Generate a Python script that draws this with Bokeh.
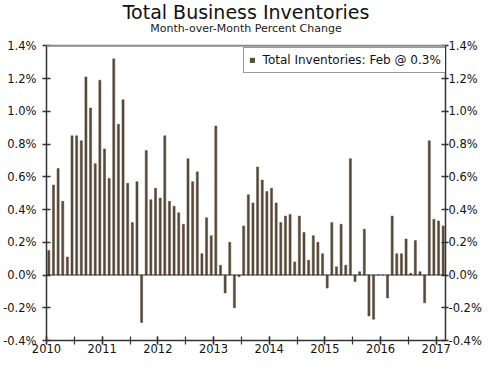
from bokeh.plotting import figure
from bokeh.models import (LinearAxis, Range1d, FixedTicker, PrintfTickFormatter,
                          Span, Label, Legend, LegendItem, ColumnDataSource)
from bokeh.embed import file_html
from bokeh.resources import INLINE

# Monthly percent change, Jan 2010 .. Feb 2017
values = [
    0.15, 0.55, 0.65, 0.45, 0.11, 0.85, 0.85, 0.82, 1.21, 1.02, 0.68, 1.19,   # 2010
    0.77, 0.59, 1.32, 0.92, 1.07, 0.56, 0.32, 0.57, -0.29, 0.76, 0.46, 0.53,  # 2011
    0.47, 0.85, 0.45, 0.42, 0.38, 0.31, 0.71, 0.57, 0.63, 0.13, 0.35, 0.24,   # 2012
    0.91, 0.06, -0.11, 0.20, -0.20, -0.01, 0.30, 0.49, 0.44, 0.66, 0.58, 0.51, # 2013
    0.53, 0.44, 0.32, 0.36, 0.37, 0.08, 0.36, 0.26, 0.09, 0.24, 0.20, 0.13,   # 2014
    -0.08, 0.32, 0.05, 0.31, 0.06, 0.71, -0.04, 0.02, 0.28, -0.25, -0.27, 0.00, # 2015
    0.00, -0.14, 0.36, 0.13, 0.13, 0.22, 0.01, 0.21, 0.02, -0.17, 0.82, 0.34,  # 2016
    0.33, 0.30,                                                                 # 2017
]
years = ["2010", "2011", "2012", "2013", "2014", "2015", "2016", "2017"]
y_ticks = [-0.4, -0.2, 0.0, 0.2, 0.4, 0.6, 0.8, 1.0, 1.2, 1.4]
title_text = "Total Business Inventories"
subtitle_text = "Month-over-Month Percent Change"
legend_label = "Total Inventories: Feb @ 0.3%"

Y_MIN, Y_MAX = y_ticks[0], y_ticks[-1]
month_index = [i + 0.5 for i in range(len(values))]
source = ColumnDataSource(data=dict(x=month_index, top=values))

FONT = "DejaVu Sans"
BAR = "#574838"
AX = "#333333"

# the frame also holds the title area above the 1.4% line
PLOT_PX = 293.0                       # pixel height of the -0.4 .. 1.4 band
UNIT = (Y_MAX - Y_MIN) / PLOT_PX      # data units per pixel
TOP_PAD_PX = 45
FRAME_W_PX = 401.6
FRAME_H_PX = PLOT_PX + TOP_PAD_PX

p = figure(width=484, height=355, output_backend="svg", toolbar_location=None,
           x_range=Range1d(0, len(values)),
           y_range=Range1d(Y_MIN, Y_MAX + TOP_PAD_PX * UNIT),
           min_border_left=46, min_border_right=30, min_border_top=0,
           min_border_bottom=0)
p.background_fill_color = "white"
p.border_fill_color = "white"
p.outline_line_color = None
p.xgrid.visible = False
p.ygrid.visible = False

r = p.vbar(x="x", top="top", bottom=0, width=0.45, source=source,
           fill_color=BAR, line_color=BAR, line_width=0.5)

p.add_layout(Span(location=0, dimension="width", line_color=AX, line_width=1))
p.add_layout(Span(location=Y_MAX, dimension="width", line_color="#8a8a8a",
                  line_width=2))

p.add_layout(Label(x=len(values) / 2, y=Y_MAX + 34 * UNIT, text=title_text,
                   text_align="center", text_baseline="alphabetic",
                   text_font=FONT, text_font_size="19px", text_color="#111111"))
p.add_layout(Label(x=len(values) / 2, y=Y_MAX + 17 * UNIT, text=subtitle_text,
                   text_align="center", text_baseline="alphabetic",
                   text_font=FONT, text_font_size="11px", text_color="#1a1a1a"))

# x axis: year ticks + half-year minor ticks
year_pos = [12 * i for i in range(len(years))]
p.xaxis.ticker = FixedTicker(ticks=year_pos,
                             minor_ticks=[6 * i for i in range(2 * len(years) - 1)])
p.xaxis.major_label_overrides = {pos: lab for pos, lab in zip(year_pos, years)}
p.xaxis.major_tick_in = 4
p.xaxis.major_tick_out = 4
p.xaxis.minor_tick_in = 4
p.xaxis.minor_tick_out = 4
p.xaxis.major_label_standoff = -1

# y axes, limited to the -0.4 .. 1.4 band
fmt = PrintfTickFormatter(format="%.1f%%")
right = LinearAxis()
p.add_layout(right, "right")
for ax in (p.yaxis[0], right):
    ax.ticker = FixedTicker(ticks=y_ticks, minor_ticks=[])
    ax.formatter = fmt
    ax.bounds = (Y_MIN, Y_MAX)
    ax.minor_tick_in = 0
    ax.minor_tick_out = 0
p.yaxis[0].major_tick_in = 4
p.yaxis[0].major_tick_out = 4
p.yaxis[0].major_label_standoff = 6
right.major_tick_in = 4
right.major_tick_out = 3
right.major_label_standoff = 0

for ax in p.xaxis + p.yaxis:
    ax.axis_line_color = AX
    ax.axis_line_width = 1.5
    ax.major_tick_line_color = AX
    ax.major_tick_line_width = 1.5
    ax.minor_tick_line_color = AX
    ax.minor_tick_line_width = 1.2
    ax.major_label_text_font = FONT
    ax.major_label_text_font_size = "11.5px"
    ax.major_label_text_color = "#111111"

LEG_W, LEG_H = 201, 22
legend = Legend(items=[LegendItem(label=legend_label, renderers=[r])],
                location=(FRAME_W_PX - 4 - LEG_W, FRAME_H_PX - TOP_PAD_PX - 4 - LEG_H),
                margin=0, padding=5, spacing=0,
                glyph_width=6, glyph_height=6, label_height=12,
                label_standoff=8,
                label_text_font=FONT, label_text_font_size="12px",
                label_text_color="#111111",
                border_line_color=AX, border_line_width=1,
                background_fill_color="white", background_fill_alpha=1)
p.add_layout(legend, "center")

open("out.html", "w").write(file_html(p, INLINE))
